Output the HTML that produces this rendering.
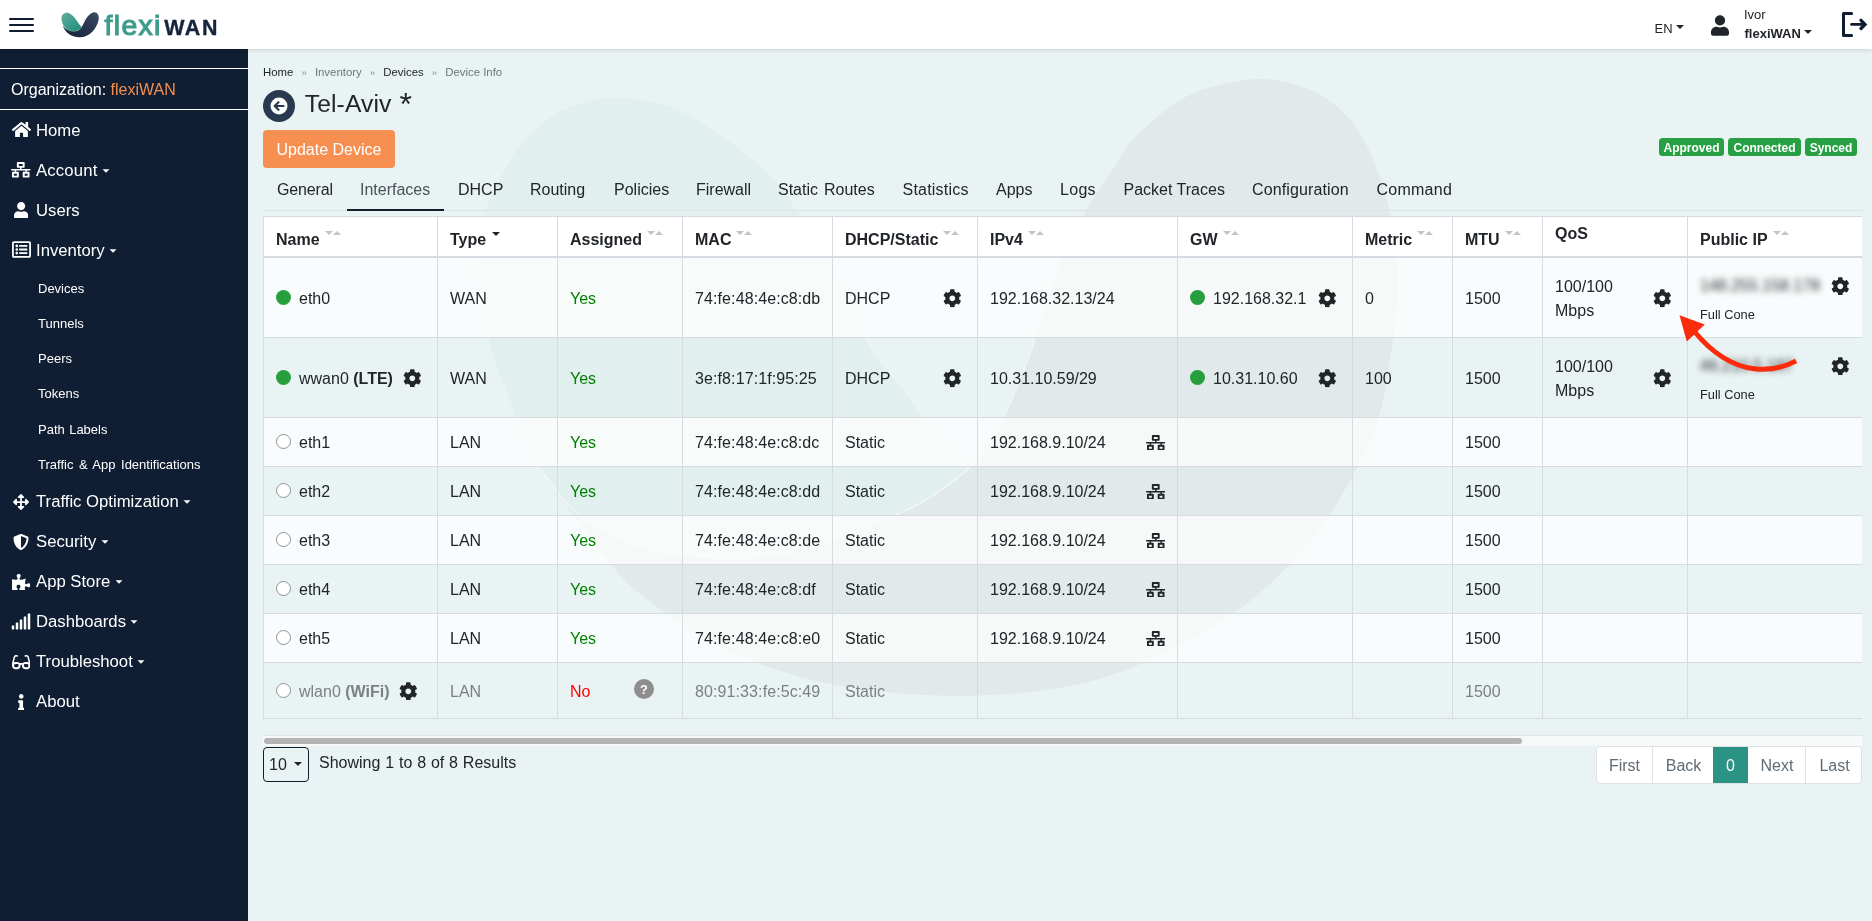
<!DOCTYPE html>
<html lang="en">
<head>
<meta charset="utf-8">
<title>flexiWAN - Device Info</title>
<style>
*{box-sizing:border-box;}
html,body{margin:0;padding:0;}
body{width:1872px;height:921px;overflow:hidden;position:relative;background:#eaf3f3;font-family:"Liberation Sans",Arial,Helvetica,sans-serif;color:#212529;font-size:16px;}
svg{display:block;}
#page{position:absolute;left:0;top:0;width:1872px;height:921px;will-change:transform;}
.abs{position:absolute;}
/* ---------- top bar ---------- */
#top{position:absolute;left:0;top:0;width:1872px;height:49px;background:#fff;box-shadow:0 1px 4px rgba(0,0,0,.14);z-index:5;}
#burger{position:absolute;left:9px;top:18px;width:25px;height:15px;}
#burger i{position:absolute;left:0;width:25px;height:2px;background:#101c30;border-radius:1px;}
#logo-text{position:absolute;left:104.500px;top:5px;height:40px;line-height:40px;white-space:nowrap;}
#logo-text .fx{font-size:28.400px;color:#3f9c8c;font-weight:400;letter-spacing:1.350px;-webkit-text-stroke:1.150px #3f9c8c;}
#logo-text .wn{font-size:21.400px;color:#17243d;font-weight:700;margin-left:2.500px;letter-spacing:1.600px;-webkit-text-stroke:.4px #17243d;}
#lang{position:absolute;left:1654.500px;top:21px;font-size:13px;line-height:16px;color:#212529;}
.caret{display:inline-block;width:0;height:0;border-left:4px solid transparent;border-right:4px solid transparent;border-top:4px solid currentColor;vertical-align:middle;}
#uname{position:absolute;left:1744px;top:7px;font-size:13px;line-height:16px;}
#uorg{position:absolute;left:1744.500px;top:26px;font-size:13px;line-height:16px;font-weight:700;}
/* ---------- sidebar ---------- */
#side{position:absolute;left:0;top:49px;width:248px;height:872px;background:#101e33;color:#fff;z-index:2;}
#side .hr{position:absolute;left:0;width:248px;height:1px;background:#fff;}
#org{position:absolute;left:11px;top:30px;font-size:16px;line-height:22px;white-space:nowrap;}
#org b{font-weight:400;color:#f58d4e;}
.mi{position:absolute;left:36px;font-size:16.700px;line-height:22px;white-space:nowrap;color:#fff;}
.mi .caret{margin-left:4.500px;border-left-width:4px;border-right-width:4px;border-top-width:4px;position:relative;top:-1px;transform:scale(.88);}
.ic{position:absolute;left:11px;}
.sub{position:absolute;left:38px;font-size:13px;line-height:16px;white-space:nowrap;color:#fff;}
/* ---------- content ---------- */
#crumb{position:absolute;left:263px;top:65px;font-size:11.4px;line-height:14px;color:#6c757d;white-space:nowrap;}
#crumb a{color:#212529;text-decoration:none;}
#crumb span{margin:0 8.100px;font-size:9.500px;color:#8a9298;}
#title{position:absolute;left:304.700px;top:88px;letter-spacing:.15px;font-size:24.600px;line-height:32px;color:#212529;white-space:nowrap;}
#upd{position:absolute;left:263px;top:130px;width:132px;height:38px;background:#f68f50;border-radius:4px;color:#fff;font-size:16px;line-height:40px;text-align:center;}
.badge{position:absolute;top:138px;height:18px;border-radius:3.500px;background:#27a043;color:#fff;font-size:12px;font-weight:700;line-height:20px;text-align:center;}
#tabs{position:absolute;left:263px;top:168px;width:1599px;height:43px;border-bottom:1px solid #dde2e5;}
#tabs a{position:absolute;top:11px;font-size:16px;line-height:22px;color:#212529;white-space:nowrap;}
#tabs a.act{color:#495057;}
#tabs i{position:absolute;left:83.500px;top:40.600px;width:97.500px;height:2.400px;background:#101c30;}
/* ---------- table ---------- */
#twrap{position:absolute;left:263px;top:216px;width:1599px;height:504px;overflow:hidden;}
#tbl{width:1600px;border-collapse:separate;border-spacing:0;table-layout:fixed;border-top:1px solid #d5dbe0;border-left:1px solid #d5dbe0;}
#tbl th,#tbl td{border-right:1px solid #d5dbe0;border-bottom:1px solid #d5dbe0;padding:3px 0 0 12px;text-align:left;vertical-align:middle;font-size:16px;line-height:24px;position:relative;white-space:nowrap;}
#tbl th{background:#fff;font-weight:700;height:41px;border-bottom:2px solid #d5dbe0;color:#212529;padding-top:11px;vertical-align:top;}
#tbl tr.o td{background:rgba(255,255,255,.72);}
#tbl tr.r49 td{padding-top:1px;}
#tbl tr.dis td{color:#7b8085;}
#tbl tr.dis td.no{color:#f00;}
.yes{color:#008000;}
.no{color:#f00;}
.dot{display:inline-block;width:15px;height:15px;border-radius:50%;vertical-align:middle;margin-right:8px;position:relative;top:-2px;}
.dot.g{background:#279f3f;}
.dot.w{background:#fff;border:1px solid #8d9297;}
.srt{display:inline-block;position:relative;top:-9px;margin-left:5px;width:15px;height:5px;}
.srt:before,.srt:after{content:"";position:absolute;top:0;width:0;height:0;border-left:4px solid transparent;border-right:4px solid transparent;}
.srt:before{left:0;border-top:4px solid #c4c4c4;}
.srt:after{left:8px;border-bottom:4px solid #c4c4c4;}
.srt1{display:inline-block;position:relative;top:-9px;margin-left:6px;width:0;height:0;border-left:4px solid transparent;border-right:4px solid transparent;border-top:4px solid #212529;}
.cog{position:absolute;width:18.600px;height:18.600px;fill:#212529;}
.net{position:absolute;width:19.500px;height:15.600px;fill:#212529;}
.small{font-size:12.800px;}
.qm{position:absolute;left:75.900px;top:15.900px;width:20.200px;height:20.200px;border-radius:50%;background:#8e8e8e;color:#fff;font-weight:700;font-size:12.700px;line-height:22.200px;text-align:center;}
.blur{position:absolute;left:12px;font-size:16px;line-height:24px;color:#2a2e33;filter:blur(3.200px);}
/* ---------- footer ---------- */
#sbar{position:absolute;left:263px;top:735px;width:1599px;height:10.500px;background:#f7f9f9;border-top:1px solid #e1e5e7;}
#sbar i{position:absolute;left:1px;top:2.300px;width:1258px;height:6px;border-radius:3px;background:#b4b4b4;}
#psize{position:absolute;left:263px;top:747px;width:46px;height:35px;border:1px solid #101c30;border-radius:4px;font-size:16px;line-height:34px;padding-left:5px;color:#212529;}
#show{position:absolute;left:319px;top:752px;word-spacing:.4px;font-size:16px;line-height:22px;white-space:nowrap;}
#pg{position:absolute;left:1596px;top:746px;height:38px;width:266px;border:1px solid #dee2e6;border-radius:4px;background:#fff;overflow:hidden;}
#pg span{position:absolute;top:-1px;height:38px;line-height:40px;font-size:16px;color:#5f6b75;text-align:center;border-left:1px solid #dee2e6;}
#pg span.a{background:#2b9383;color:#fff;border-left:0;}
</style>
</head>
<body>
<div id="page">
<!-- WM0 --><svg class="abs" style="left:0;top:0;z-index:0" width="1872" height="921" viewBox="0 0 1872 921">
  <path d="M1200.0 90.0 C1209.0 88.2 1237.3 79.7 1254.0 79.0 C1270.7 78.3 1286.5 81.7 1300.0 86.0 C1313.5 90.3 1324.2 95.8 1335.0 105.0 C1345.8 114.2 1356.0 125.0 1364.8 141.4 C1373.6 157.8 1382.2 182.1 1387.6 203.3 C1393.0 224.5 1396.0 248.9 1397.4 268.5 C1398.8 288.1 1396.9 306.5 1395.8 320.6 C1394.7 334.7 1393.8 336.4 1390.9 353.0 C1388.0 369.6 1384.7 399.4 1378.3 420.0 C1371.9 440.6 1363.1 456.9 1352.3 476.5 C1341.5 496.1 1330.6 516.3 1313.2 537.3 C1295.8 558.3 1273.3 582.9 1248.0 602.4 C1222.7 621.9 1190.2 640.7 1161.2 654.5 C1132.2 668.3 1107.6 678.1 1074.3 685.0 C1041.0 691.9 1001.2 695.8 961.4 695.8 C921.6 695.8 874.5 692.6 835.4 685.0 C796.3 677.4 759.5 665.4 726.9 650.2 C694.3 635.0 661.8 611.2 640.0 593.7 C618.2 576.2 612.5 565.6 596.0 545.0 C579.5 524.4 550.2 482.5 541.0 470.0 C547.5 477.7 563.2 503.2 580.0 516.0 C596.8 528.8 618.7 540.2 642.0 547.0 C665.3 553.8 694.0 556.3 720.0 557.0 C746.0 557.7 771.5 556.8 798.0 551.0 C824.5 545.2 857.2 530.8 879.0 522.0 C900.8 513.2 913.0 508.0 929.0 498.0 C945.0 488.0 962.7 475.3 975.0 462.0 C987.3 448.7 995.2 432.5 1003.0 418.0 C1010.8 403.5 1016.7 388.0 1022.0 375.0 C1027.3 362.0 1028.9 357.8 1035.0 340.0 C1041.1 322.2 1050.3 289.7 1058.6 268.5 C1066.9 247.3 1075.5 229.8 1084.7 213.0 C1093.9 196.2 1106.0 179.7 1114.0 167.5 C1122.0 155.3 1123.2 150.2 1132.6 140.0 C1142.0 129.8 1159.4 114.6 1170.6 106.3 C1181.8 98.0 1195.1 92.7 1200.0 90.0 Z" fill="#e1e9ea"/>
  <path d="M560.0 111.0 C565.0 109.2 580.5 102.7 590.0 100.5 C599.5 98.3 605.3 97.0 617.0 97.6 C628.7 98.2 646.1 99.9 660.0 104.0 C673.9 108.1 683.0 110.9 700.6 122.0 C718.2 133.1 749.4 155.5 765.7 170.7 C782.0 185.9 787.4 197.8 798.3 213.0 C809.2 228.2 821.4 245.5 830.9 262.0 C840.4 278.5 848.0 296.8 855.0 312.0 C862.0 327.2 865.1 340.2 873.0 353.0 C880.9 365.8 891.6 374.9 902.5 389.0 C913.4 403.1 926.3 425.5 938.4 437.7 C950.5 449.9 968.9 457.9 975.0 462.0 C967.3 468.0 945.0 488.0 929.0 498.0 C913.0 508.0 900.8 513.2 879.0 522.0 C857.2 530.8 824.5 545.2 798.0 551.0 C771.5 556.8 746.0 557.7 720.0 557.0 C694.0 556.3 665.3 553.8 642.0 547.0 C618.7 540.2 596.8 528.8 580.0 516.0 C563.2 503.2 547.5 477.7 541.0 470.0 C536.1 459.2 520.4 426.7 511.7 405.0 C503.0 383.3 494.7 362.8 489.0 340.0 C483.3 317.2 478.1 290.2 477.5 268.5 C476.9 246.8 479.9 228.5 485.6 210.0 C491.3 191.5 503.5 171.0 511.7 157.7 C519.9 144.4 527.0 137.8 535.0 130.0 C543.0 122.2 555.8 114.2 560.0 111.0 Z" fill="#e1efee"/>
  <path d="M541.0 470.0 C547.5 477.7 563.2 503.2 580.0 516.0 C596.8 528.8 618.7 540.2 642.0 547.0 C665.3 553.8 694.0 556.3 720.0 557.0 C746.0 557.7 771.5 556.8 798.0 551.0 C824.5 545.2 857.2 530.8 879.0 522.0 C900.8 513.2 913.0 508.0 929.0 498.0 C945.0 488.0 962.7 475.3 975.0 462.0 C987.3 448.7 995.2 432.5 1003.0 418.0 C1010.8 403.5 1016.7 388.0 1022.0 375.0 C1027.3 362.0 1032.8 345.8 1035.0 340.0" fill="none" stroke="#f2f7f7" stroke-width="1.500" opacity=".8"/>
</svg><!-- WM1 -->
<div id="top">
  <div id="burger"><i style="top:0"></i><i style="top:6px"></i><i style="top:12px"></i></div>
  <svg class="abs" style="left:60px;top:10px" width="42" height="30" viewBox="0 0 42 30">
    <defs>
      <linearGradient id="lg1" x1="0" y1="0" x2="1" y2="1"><stop offset="0" stop-color="#5fae9d"/><stop offset="1" stop-color="#1f8a79"/></linearGradient>
      <linearGradient id="lg2" x1="1" y1="0" x2="0" y2="1"><stop offset="0" stop-color="#3a4a66"/><stop offset="1" stop-color="#141f33"/></linearGradient>
    </defs>
    <path d="M33.500 2.200 C37 1.700 39.600 5 38.600 10 C37 18 30 27.300 19.500 27.300 C11 27.300 4.500 22 2.800 15.600 C6 21 13 22.500 18 20.500 C24 18 24.500 5 33.500 2.200 Z" fill="url(#lg2)"/>
    <path d="M1.500 9 C1 4.500 5 1.800 9 3.200 C14 5 17 12 22 17.500 C19 21 13 22 9 20.500 C4.500 18.500 2 14 1.500 9 Z" fill="url(#lg1)"/>
  </svg>
  <div id="logo-text"><span class="fx">flexi</span><span class="wn">WAN</span></div>
  <div id="lang">EN <span class="caret" style="position:relative;top:-3px;margin-left:0"></span></div>
  <svg class="abs" style="left:1711px;top:15px" width="18" height="21" viewBox="0 0 448 512"><path fill="#212529" d="M224 256c70.700 0 128-57.300 128-128S294.700 0 224 0 96 57.300 96 128s57.300 128 128 128zm89.600 32h-16.700c-22.200 10.200-46.900 16-72.900 16s-50.600-5.800-72.900-16h-16.700C60.200 288 0 348.200 0 422.400V464c0 26.500 21.500 48 48 48h352c26.500 0 48-21.500 48-48v-41.600c0-74.200-60.200-134.400-134.400-134.400z"/></svg>
  <div id="uname">Ivor</div>
  <div id="uorg">flexiWAN <span class="caret" style="position:relative;top:-3px"></span></div>
  <svg class="abs" style="left:1840px;top:10px" width="30" height="30" viewBox="0 0 30 30" fill="none" stroke="#0f1d33" stroke-linecap="round">
    <path d="M11.600 3.500 H3.500 V25.400 H11.600" stroke-width="3" stroke-linejoin="round"/>
    <path d="M11.600 14.400 H24" stroke-width="2.900"/>
    <path d="M21 10.300 L25 14.400 L21 18.500" stroke-width="3.300" stroke-linejoin="miter"/>
  </svg>
</div>
<div id="side">
  <div class="hr" style="top:19px"></div>
  <div id="org">Organization: <b>flexiWAN</b></div>
  <div class="hr" style="top:60px"></div>

  <svg class="ic" style="top:72px" width="21" height="17" viewBox="0 0 576 512"><path fill="#fff" d="M280.370 148.260L96 300.110V464a16 16 0 0 0 16 16l112.060-.29a16 16 0 0 0 15.920-16V368a16 16 0 0 1 16-16h64a16 16 0 0 1 16 16v95.640a16 16 0 0 0 16 16.050L464 480a16 16 0 0 0 16-16V300L295.670 148.260a12.190 12.190 0 0 0-15.300 0zM571.600 251.470L488 182.560V44.050a12 12 0 0 0-12-12h-56a12 12 0 0 0-12 12v72.610L318.470 43a48 48 0 0 0-61 0L4.340 251.470a12 12 0 0 0-1.600 16.900l25.500 31A12 12 0 0 0 45.150 301l235.220-193.740a12.190 12.190 0 0 1 15.300 0L530.900 301a12 12 0 0 0 16.900-1.600l25.500-31a12 12 0 0 0-1.700-16.930z"/></svg>
  <div class="mi" style="top:71px">Home</div>

  <svg class="ic" style="top:113px" width="19.500" height="15.600" viewBox="0 0 640 512"><path fill="#fff" d="M640 264v-16c0-8.840-7.160-16-16-16H344v-40h72c17.670 0 32-14.330 32-32V32c0-17.670-14.330-32-32-32H224c-17.670 0-32 14.330-32 32v128c0 17.670 14.330 32 32 32h72v40H16c-8.840 0-16 7.160-16 16v16c0 8.840 7.160 16 16 16h104v40H64c-17.670 0-32 14.330-32 32v128c0 17.670 14.330 32 32 32h160c17.670 0 32-14.330 32-32V352c0-17.670-14.330-32-32-32h-56v-40h304v40h-56c-17.670 0-32 14.330-32 32v128c0 17.670 14.330 32 32 32h160c17.670 0 32-14.330 32-32V352c0-17.670-14.330-32-32-32h-56v-40h104c8.840 0 16-7.160 16-16zM256 128V64h128v64H256zm-64 320H96v-64h96v64zm352 0h-96v-64h96v64z"/></svg>
  <div class="mi" style="top:111px;letter-spacing:.17px">Account<span class="caret"></span></div>

  <svg class="ic" style="top:153px;left:13.500px" width="14.300" height="16.300" viewBox="0 0 448 512"><path fill="#fff" d="M224 256c70.700 0 128-57.300 128-128S294.700 0 224 0 96 57.300 96 128s57.300 128 128 128zm89.600 32h-16.700c-22.200 10.200-46.900 16-72.900 16s-50.600-5.800-72.900-16h-16.700C60.200 288 0 348.200 0 422.400V464c0 26.500 21.500 48 48 48h352c26.500 0 48-21.500 48-48v-41.600c0-74.200-60.200-134.400-134.400-134.400z"/></svg>
  <div class="mi" style="top:151px">Users</div>

  <svg class="ic" style="top:192px;left:12px" width="19" height="17" viewBox="0 0 512 460"><path fill="#fff" transform="translate(0,-26)" d="M464 32H48C21.490 32 0 53.490 0 80v352c0 26.510 21.490 48 48 48h416c26.510 0 48-21.490 48-48V80c0-26.510-21.490-48-48-48zm-6 400H54a6 6 0 0 1-6-6V86a6 6 0 0 1 6-6h404a6 6 0 0 1 6 6v340a6 6 0 0 1-6 6zm-42-92v24c0 6.627-5.373 12-12 12H204c-6.627 0-12-5.373-12-12v-24c0-6.627 5.373-12 12-12h200c6.627 0 12 5.373 12 12zm0-96v24c0 6.627-5.373 12-12 12H204c-6.627 0-12-5.373-12-12v-24c0-6.627 5.373-12 12-12h200c6.627 0 12 5.373 12 12zm0-96v24c0 6.627-5.373 12-12 12H204c-6.627 0-12-5.373-12-12v-24c0-6.627 5.373-12 12-12h200c6.627 0 12 5.373 12 12zm-252 12c0 19.882-16.118 36-36 36s-36-16.118-36-36 16.118-36 36-36 36 16.118 36 36zm0 96c0 19.882-16.118 36-36 36s-36-16.118-36-36 16.118-36 36-36 36 16.118 36 36zm0 96c0 19.882-16.118 36-36 36s-36-16.118-36-36 16.118-36 36-36 36 16.118 36 36z"/></svg>
  <div class="mi" style="top:191px">Inventory<span class="caret"></span></div>

  <div class="sub" style="top:232px">Devices</div>
  <div class="sub" style="top:267px">Tunnels</div>
  <div class="sub" style="top:302px">Peers</div>
  <div class="sub" style="top:337px">Tokens</div>
  <div class="sub" style="top:373px;word-spacing:.8px">Path Labels</div>
  <div class="sub" style="top:408px;word-spacing:1.900px">Traffic &amp; App Identifications</div>

  <svg class="ic" style="top:444.500px;left:13px" width="16" height="16" viewBox="0 0 512 512"><path fill="#fff" d="M352.201 425.775l-79.196 79.196c-9.373 9.373-24.568 9.373-33.941 0l-79.196-79.196c-15.119-15.119-4.411-40.971 16.971-40.970h51.162L228 284H127.196v51.162c0 21.382-25.851 32.090-40.971 16.971L7.029 272.937c-9.373-9.373-9.373-24.569 0-33.941L86.225 159.800c15.119-15.119 40.971-4.411 40.971 16.971V228H228V127.196h-51.230c-21.382 0-32.090-25.851-16.971-40.971l79.196-79.196c9.373-9.373 24.568-9.373 33.941 0l79.196 79.196c15.119 15.119 4.411 40.971-16.971 40.971h-51.162V228h100.804v-51.162c0-21.382 25.851-32.090 40.970-16.971l79.196 79.196c9.373 9.373 9.373 24.569 0 33.941L425.773 352.200c-15.119 15.119-40.971 4.411-40.970-16.971V284H284v100.804h51.230c21.383 0 32.091 25.851 16.971 40.971z"/></svg>
  <div class="mi" style="top:442px">Traffic Optimization<span class="caret"></span></div>

  <svg class="ic" style="top:484.500px;left:13px" width="16" height="16" viewBox="0 0 512 512"><path fill="#fff" d="M466.500 83.700l-192-80a48.150 48.150 0 0 0-36.900 0l-192 80C27.700 91.100 16 108.600 16 128c0 198.500 114.500 335.700 221.500 380.300 11.800 4.900 25.100 4.900 36.900 0C360.100 472.600 496 349.300 496 128c0-19.400-11.700-36.900-29.500-44.300zM256.100 446.300l-.1-381 175.900 73.300c-3.300 151.400-82.100 261.100-175.800 307.700z"/></svg>
  <div class="mi" style="top:482px">Security<span class="caret"></span></div>

  <svg class="ic" style="top:524.500px;left:11.500px" width="18.500" height="16.400" viewBox="0 0 576 512"><path fill="#fff" d="M519.442 288.651c-41.519 0-59.500 31.593-82.058 31.593C377.409 320.244 432 144 432 144s-196.288 80-196.288-3.297c0-35.827 36.288-46.250 36.288-85.985C272 19.216 243.885 0 210.539 0c-34.654 0-66.366 18.891-66.366 56.346 0 41.364 31.711 59.277 31.711 81.750C175.885 207.719 0 166.758 0 166.758v333.237s178.635 41.047 178.635-28.662c0-22.473-40-40.107-40-81.471 0-37.456 29.250-56.346 63.577-56.346 33.673 0 61.788 19.216 61.788 54.717 0 39.735-36.288 50.158-36.288 85.985 0 60.803 129.675 25.730 181.230 25.730 0 0-34.725-120.101 25.827-120.101 35.962 0 46.423 36.152 86.308 36.152C556.712 416 576 387.990 576 354.443c0-34.199-18.962-65.792-56.558-65.792z"/></svg>
  <div class="mi" style="top:522px">App Store<span class="caret"></span></div>

  <svg class="ic" style="top:564px;left:11px" width="20" height="17" viewBox="0 0 640 512"><path fill="#fff" d="M216 288h-48c-8.840 0-16 7.160-16 16v192c0 8.840 7.160 16 16 16h48c8.840 0 16-7.160 16-16V304c0-8.840-7.160-16-16-16zM88 384H40c-8.840 0-16 7.160-16 16v96c0 8.840 7.160 16 16 16h48c8.840 0 16-7.160 16-16v-96c0-8.840-7.160-16-16-16zm256-192h-48c-8.840 0-16 7.160-16 16v288c0 8.840 7.160 16 16 16h48c8.840 0 16-7.160 16-16V208c0-8.840-7.160-16-16-16zm128-96h-48c-8.840 0-16 7.160-16 16v384c0 8.840 7.160 16 16 16h48c8.840 0 16-7.160 16-16V112c0-8.840-7.160-16-16-16zM600 0h-48c-8.840 0-16 7.160-16 16v480c0 8.840 7.160 16 16 16h48c8.840 0 16-7.160 16-16V16c0-8.840-7.160-16-16-16z"/></svg>
  <div class="mi" style="top:562px">Dashboards<span class="caret"></span></div>

  <svg class="ic" style="top:604.500px;left:11.500px" width="18.500" height="16.400" viewBox="0 0 576 512"><path fill="#fff" d="M574.100 280.370L528.750 98.660c-5.910-23.700-21.590-44.050-43-55.810-21.440-11.730-46.970-14.110-70.190-6.330l-15.250 5.080c-8.390 2.790-12.920 11.860-10.120 20.240l5.060 15.180c2.790 8.380 11.850 12.910 20.230 10.120l13.180-4.390c10.870-3.620 23-3.570 33.160 1.730 10.290 5.370 17.570 14.560 20.370 25.820l38.460 153.820c-22.190-6.810-49.790-12.460-81.200-12.460-34.770 0-73.980 7.020-114.850 26.740h-73.180c-40.870-19.740-80.080-26.750-114.860-26.750-31.420 0-59.020 5.650-81.210 12.460l38.460-153.830c2.790-11.250 10.090-20.450 20.380-25.810 10.160-5.300 22.280-5.350 33.150-1.730l13.170 4.390c8.380 2.790 17.440-1.740 20.230-10.120l5.060-15.180c2.800-8.380-1.730-17.450-10.120-20.240l-15.250-5.080c-23.220-7.780-48.750-5.410-70.190 6.330-21.410 11.770-37.090 32.110-43 55.800L1.900 280.370A64.218 64.218 0 0 0 0 295.860v70.250C0 429.010 51.580 480 115.200 480h37.120c60.280 0 110.370-45.940 114.880-105.370l2.930-38.630h35.750l2.930 38.630C313.310 434.060 363.400 480 423.680 480h37.120c63.620 0 115.200-50.990 115.200-113.880v-70.250c0-5.230-.64-10.430-1.900-15.500zm-370.720 89.420c-1.970 25.910-24.400 46.210-51.060 46.210H115.200C86.970 416 64 393.620 64 366.110v-37.540c18.120-6.490 43.420-12.920 72.580-12.920 23.860 0 47.260 4.330 69.930 12.920l-3.130 41.220zM512 366.120c0 27.510-22.970 49.880-51.200 49.880h-37.120c-26.670 0-49.100-20.300-51.060-46.210l-3.130-41.220c22.670-8.590 46.080-12.920 69.950-12.920 29.120 0 54.430 6.440 72.550 12.930v37.540z"/></svg>
  <div class="mi" style="top:602px">Troubleshoot<span class="caret"></span></div>

  <svg class="ic" style="top:644.500px;left:17.500px" width="6.500" height="16.500" viewBox="0 0 192 512"><path fill="#fff" d="M20 424.229h20V279.771H20c-11.046 0-20-8.954-20-20V212c0-11.046 8.954-20 20-20h112c11.046 0 20 8.954 20 20v212.229h20c11.046 0 20 8.954 20 20V492c0 11.046-8.954 20-20 20H20c-11.046 0-20-8.954-20-20v-47.771c0-11.046 8.954-20 20-20zM96 0C56.235 0 24 32.235 24 72s32.235 72 72 72 72-32.235 72-72S135.764 0 96 0z"/></svg>
  <div class="mi" style="top:642px">About</div>
</div>
<svg width="0" height="0" style="position:absolute">
  <symbol id="cog" viewBox="0 0 512 512"><path d="M487.400 315.700l-42.600-24.600c4.300-23.200 4.300-47 0-70.200l42.600-24.600c4.900-2.800 7.100-8.600 5.500-14-11.100-35.600-30-67.800-54.700-94.600-3.800-4.100-10-5.100-14.800-2.300L380.800 110c-17.900-15.400-38.500-27.300-60.800-35.100V25.800c0-5.600-3.900-10.500-9.400-11.700-36.700-8.200-74.300-7.800-109.200 0-5.500 1.200-9.400 6.100-9.400 11.700V75c-22.200 7.900-42.800 19.800-60.800 35.100L88.700 85.500c-4.900-2.800-11-1.900-14.800 2.300-24.700 26.700-43.600 58.900-54.700 94.600-1.700 5.400.6 11.200 5.500 14L67.300 221c-4.300 23.200-4.300 47 0 70.200l-42.600 24.600c-4.900 2.800-7.100 8.600-5.500 14 11.100 35.600 30 67.800 54.700 94.600 3.800 4.100 10 5.100 14.800 2.300l42.600-24.600c17.900 15.400 38.500 27.300 60.800 35.100v49.200c0 5.600 3.900 10.500 9.400 11.700 36.700 8.200 74.300 7.800 109.200 0 5.500-1.200 9.400-6.100 9.400-11.700v-49.200c22.200-7.900 42.800-19.800 60.800-35.100l42.600 24.600c4.900 2.800 11 1.900 14.800-2.300 24.700-26.700 43.600-58.900 54.700-94.600 1.500-5.500-.7-11.300-5.600-14.100zM256 336c-44.100 0-80-35.900-80-80s35.900-80 80-80 80 35.900 80 80-35.900 80-80 80z"/></symbol>
  <symbol id="net" viewBox="0 0 640 512"><path d="M640 264v-16c0-8.840-7.160-16-16-16H344v-40h72c17.670 0 32-14.330 32-32V32c0-17.670-14.330-32-32-32H224c-17.670 0-32 14.330-32 32v128c0 17.670 14.330 32 32 32h72v40H16c-8.840 0-16 7.160-16 16v16c0 8.840 7.160 16 16 16h104v40H64c-17.670 0-32 14.330-32 32v128c0 17.670 14.330 32 32 32h160c17.670 0 32-14.330 32-32V352c0-17.670-14.330-32-32-32h-56v-40h304v40h-56c-17.670 0-32 14.330-32 32v128c0 17.670 14.330 32 32 32h160c17.670 0 32-14.330 32-32V352c0-17.670-14.330-32-32-32h-56v-40h104c8.840 0 16-7.160 16-16zM256 128V64h128v64H256zm-64 320H96v-64h96v64zm352 0h-96v-64h96v64z"/></symbol>
</svg>

<div id="crumb"><a>Home</a><span>»</span>Inventory<span>»</span><a>Devices</a><span>»</span>Device Info</div>
<svg class="abs" style="left:263px;top:90px" width="32" height="32" viewBox="0 0 32 32"><circle cx="16" cy="16" r="16" fill="#293a50"/><circle cx="16" cy="16" r="8.500" fill="#fff"/><path d="M20.500 16 H12 M15.500 12.200 L11.700 16 L15.500 19.800" fill="none" stroke="#293a50" stroke-width="2.200" stroke-linecap="round" stroke-linejoin="round"/></svg>
<div id="title">Tel-Aviv <span style="font-size:32px;position:relative;top:2.500px;left:1px;line-height:1px">*</span></div>
<div id="upd">Update Device</div>
<div class="badge" style="left:1659px;width:65px">Approved</div>
<div class="badge" style="left:1728px;width:73px">Connected</div>
<div class="badge" style="left:1805px;width:52px">Synced</div>

<div id="tabs">
  <a style="left:14px;letter-spacing:-.15px">General</a>
  <a class="act" style="left:97px">Interfaces</a>
  <a style="left:195px">DHCP</a>
  <a style="left:267px">Routing</a>
  <a style="left:351px">Policies</a>
  <a style="left:433px">Firewall</a>
  <a style="left:515px;word-spacing:1.500px">Static Routes</a>
  <a style="left:639.500px;letter-spacing:.22px">Statistics</a>
  <a style="left:733px">Apps</a>
  <a style="left:797px;letter-spacing:.3px">Logs</a>
  <a style="left:860.500px">Packet Traces</a>
  <a style="left:989px;letter-spacing:.13px">Configuration</a>
  <a style="left:1113.500px;letter-spacing:.25px">Command</a>
  <i></i>
</div>

<div id="twrap"><table id="tbl">
<colgroup><col style="width:174px"><col style="width:120px"><col style="width:125px"><col style="width:150px"><col style="width:145px"><col style="width:200px"><col style="width:175px"><col style="width:100px"><col style="width:90px"><col style="width:145px"><col style="width:175px"></colgroup>
<thead><tr>
  <th>Name<span class="srt"></span></th>
  <th>Type<span class="srt1"></span></th>
  <th>Assigned<span class="srt"></span></th>
  <th>MAC<span class="srt"></span></th>
  <th>DHCP/Static<span class="srt"></span></th>
  <th>IPv4<span class="srt"></span></th>
  <th>GW<span class="srt"></span></th>
  <th>Metric<span class="srt"></span></th>
  <th>MTU<span class="srt"></span></th>
  <th style="padding-top:0;vertical-align:top;line-height:33.500px">QoS</th>
  <th>Public IP<span class="srt"></span></th>
</tr></thead>
<tbody>
<tr class="o" style="height:80px">
  <td><span class="dot g"></span>eth0</td><td>WAN</td><td class="yes">Yes</td><td style="letter-spacing:.1px">74:fe:48:4e:c8:db</td>
  <td>DHCP<svg class="cog" style="left:110.400px;top:31.100px"><use href="#cog"/></svg></td>
  <td>192.168.32.13/24</td>
  <td><span class="dot g"></span>192.168.32.1<svg class="cog" style="left:140.400px;top:31.100px"><use href="#cog"/></svg></td>
  <td>0</td><td>1500</td>
  <td style="line-height:24px">100/100<br>Mbps<svg class="cog" style="left:110.400px;top:31.100px"><use href="#cog"/></svg></td>
  <td><span class="blur" style="top:15.500px">148.255.158.178</span><svg class="cog" style="left:143.100px;top:18.900px"><use href="#cog"/></svg><span class="small" style="position:absolute;left:12px;top:48.600px;line-height:16px">Full Cone</span></td>
</tr>
<tr style="height:80px">
  <td><span class="dot g"></span>wwan0 <b>(LTE)</b><svg class="cog" style="left:139.200px;top:30.900px"><use href="#cog"/></svg></td><td>WAN</td><td class="yes">Yes</td><td style="letter-spacing:.1px">3e:f8:17:1f:95:25</td>
  <td>DHCP<svg class="cog" style="left:110.400px;top:31.100px"><use href="#cog"/></svg></td>
  <td>10.31.10.59/29</td>
  <td><span class="dot g"></span>10.31.10.60<svg class="cog" style="left:140.400px;top:31.100px"><use href="#cog"/></svg></td>
  <td>100</td><td>1500</td>
  <td style="line-height:24px">100/100<br>Mbps<svg class="cog" style="left:110.400px;top:31.100px"><use href="#cog"/></svg></td>
  <td><span class="blur" style="top:15.500px">46.210.5.187</span><svg class="cog" style="left:143.100px;top:18.900px"><use href="#cog"/></svg><span class="small" style="position:absolute;left:12px;top:48.600px;line-height:16px">Full Cone</span></td>
</tr>
<tr class="o r49" style="height:49px"><td><span class="dot w"></span>eth1</td><td>LAN</td><td class="yes">Yes</td><td style="letter-spacing:.1px">74:fe:48:4e:c8:dc</td><td>Static</td><td>192.168.9.10/24<svg class="net" style="left:167.600px;top:16.700px"><use href="#net"/></svg></td><td></td><td></td><td>1500</td><td></td><td></td></tr>
<tr class="r49" style="height:49px"><td><span class="dot w"></span>eth2</td><td>LAN</td><td class="yes">Yes</td><td style="letter-spacing:.1px">74:fe:48:4e:c8:dd</td><td>Static</td><td>192.168.9.10/24<svg class="net" style="left:167.600px;top:16.700px"><use href="#net"/></svg></td><td></td><td></td><td>1500</td><td></td><td></td></tr>
<tr class="o r49" style="height:49px"><td><span class="dot w"></span>eth3</td><td>LAN</td><td class="yes">Yes</td><td style="letter-spacing:.1px">74:fe:48:4e:c8:de</td><td>Static</td><td>192.168.9.10/24<svg class="net" style="left:167.600px;top:16.700px"><use href="#net"/></svg></td><td></td><td></td><td>1500</td><td></td><td></td></tr>
<tr class="r49" style="height:49px"><td><span class="dot w"></span>eth4</td><td>LAN</td><td class="yes">Yes</td><td style="letter-spacing:.1px">74:fe:48:4e:c8:df</td><td>Static</td><td>192.168.9.10/24<svg class="net" style="left:167.600px;top:16.700px"><use href="#net"/></svg></td><td></td><td></td><td>1500</td><td></td><td></td></tr>
<tr class="o r49" style="height:49px"><td><span class="dot w"></span>eth5</td><td>LAN</td><td class="yes">Yes</td><td style="letter-spacing:.1px">74:fe:48:4e:c8:e0</td><td>Static</td><td>192.168.9.10/24<svg class="net" style="left:167.600px;top:16.700px"><use href="#net"/></svg></td><td></td><td></td><td>1500</td><td></td><td></td></tr>
<tr class="dis" style="height:56px"><td><span class="dot w"></span>wlan0 <b>(WiFi)</b><svg class="cog" style="left:135.400px;top:18.900px"><use href="#cog"/></svg></td><td>LAN</td><td class="no">No<span class="qm">?</span></td><td style="letter-spacing:.1px">80:91:33:fe:5c:49</td><td>Static</td><td></td><td></td><td></td><td>1500</td><td></td><td></td></tr>
</tbody>
</table></div>

<div id="sbar"><i></i></div>
<div id="psize">10 <span class="caret" style="position:relative;top:-2px;margin-left:3px;border-left-width:4.200px;border-right-width:4.200px;border-top-width:4px"></span></div>
<div id="show">Showing 1 to 8 of 8 Results</div>
<div id="pg">
  <span style="left:-1px;width:56px">First</span>
  <span style="left:55px;width:62px">Back</span>
  <span class="a" style="left:116px;width:35px">0</span>
  <span style="left:151px;width:58px;border-left:0">Next</span>
  <span style="left:208px;width:58px">Last</span>
</div>

<svg class="abs" style="left:1670px;top:310px;z-index:4" width="140" height="70" viewBox="0 0 140 70">
  <path d="M126.100 50.900 C112 58.500 98 60.500 84 58.800 C62 56 42 43 24 21" fill="none" stroke="#fb2b0b" stroke-width="5"/>
  <path d="M9.500 5.200 L34.700 14.500 L16.800 31.400 Z" fill="#fb2b0b"/>
</svg>

</div>
</body>
</html>
